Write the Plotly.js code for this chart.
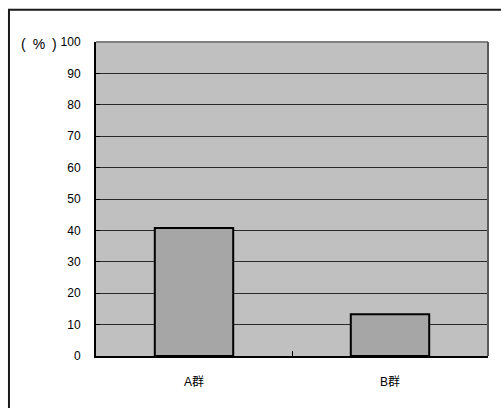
<!DOCTYPE html>
<html>
<head>
<meta charset="utf-8">
<script src="https://cdn.plot.ly/plotly-3.0.1.min.js"></script>
<style>
  html, body { margin: 0; padding: 0; background: #ffffff; }
  #chart { width: 501px; height: 408px; }
</style>
</head>
<body>
<div id="chart"></div>
<script>
// Share (%) per group
const groups = ['A群', 'B群'];
const percent = [40.8, 13.3];
const yTicks = [0, 10, 20, 30, 40, 50, 60, 70, 80, 90, 100];

const font = { family: '"Liberation Sans", Arial, "Noto Sans CJK JP", sans-serif', size: 12, color: '#000000' };

const trace = {
  type: 'bar',
  x: groups,
  y: percent,
  marker: { color: '#a6a6a6', line: { color: '#000000', width: 2 } },
  hoverinfo: 'skip'
};

const layout = {
  width: 501,
  height: 408,
  margin: { l: 96, r: 13, t: 42, b: 52 },
  paper_bgcolor: '#ffffff',
  plot_bgcolor: '#c0c0c0',
  bargap: 0.6,
  showlegend: false,
  font: font,
  xaxis: {
    type: 'category',
    showgrid: false,
    zeroline: false,
    showline: true,
    linecolor: '#000000',
    linewidth: 2,
    ticks: 'inside',
    tickson: 'boundaries',
    ticklen: 5,
    tickcolor: '#000000',
    ticklabelstandoff: 14,
    tickfont: font
  },
  yaxis: {
    range: [0, 100],
    tickvals: yTicks,
    ticktext: yTicks.map(String),
    showgrid: true,
    gridcolor: '#2a2a2a',
    gridwidth: 1,
    zeroline: false,
    showline: true,
    linecolor: '#000000',
    linewidth: 2,
    ticks: 'inside',
    ticklen: 4,
    tickcolor: '#000000',
    ticklabelstandoff: 11,
    tickfont: font
  },
  shapes: [
    // outer chart frame
    { type: 'rect', xref: 'paper', yref: 'paper',
      x0: -0.222, x1: 1.05, y0: -0.2, y1: 1.103,
      line: { color: '#1a1a1a', width: 2 }, layer: 'below' },
    // top and right edges of the plot area
    { type: 'line', xref: 'paper', yref: 'paper', x0: 0, x1: 1, y0: 1, y1: 1,
      line: { color: '#808080', width: 2 } },
    { type: 'line', xref: 'paper', yref: 'paper', x0: 1, x1: 1, y0: 0, y1: 1,
      line: { color: '#5a5a5a', width: 2 } }
  ],
  annotations: [
    { text: '(\u2002%\u2002)', xref: 'paper', yref: 'paper', x: -0.146, y: 0.995,
      xanchor: 'center', yanchor: 'middle', showarrow: false,
      font: { family: font.family, size: 14, color: '#000000' } }
  ]
};

Plotly.newPlot('chart', [trace], layout, { displayModeBar: false, staticPlot: true });
</script>
</body>
</html>
